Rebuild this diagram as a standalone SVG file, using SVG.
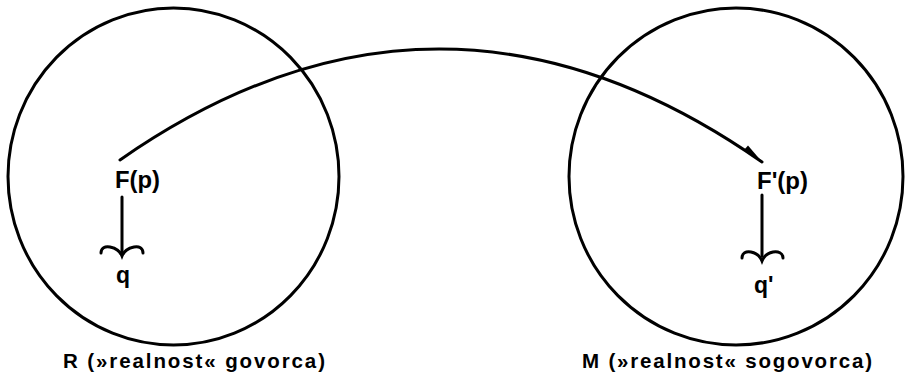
<svg xmlns="http://www.w3.org/2000/svg" width="905" height="382" viewBox="0 0 905 382">
  <style>
    .ring { fill: none; stroke: #000; stroke-width: 3; }
    .line { fill: none; stroke: #000; stroke-width: 3; stroke-linecap: round; }
    .lbl { font-family: "Liberation Sans", Arial, sans-serif; font-weight: bold; fill: #000; }
    .big { font-size: 23px; }
    .cap { font-size: 20.5px; }
  </style>
  <rect width="905" height="382" fill="#fff"/>
  <g id="realnost-govorca">
    <ellipse class="ring" cx="173.5" cy="176.5" rx="165.5" ry="168.5"/>
    <text class="lbl cap" x="63" y="368" textLength="262" lengthAdjust="spacing">R (»realnost«  govorca)</text>
  </g>
  <g id="realnost-sogovorca">
    <ellipse class="ring" cx="736" cy="176.5" rx="167" ry="168.5"/>
    <text class="lbl cap" x="582" y="368" textLength="290" lengthAdjust="spacing">M (»realnost«  sogovorca)</text>
  </g>
  <g id="Fp">
    <text class="lbl big" x="115" y="188" textLength="45" lengthAdjust="spacingAndGlyphs">F(p)</text>
  </g>
  <g id="q">
    <text class="lbl big" x="116" y="283">q</text>
  </g>
  <g id="Fpp">
    <text class="lbl big" x="757" y="189" textLength="51" lengthAdjust="spacingAndGlyphs">F'(p)</text>
  </g>
  <g id="qp">
    <text class="lbl big" x="754" y="293">q'</text>
  </g>
  <g id="connectors">
    <path class="line" d="M120,160 Q440,-63 762,162"/>
    <polygon points="763,163 744,150 748,145.5" fill="#000"/>
    <path class="line" d="M122,197 V252"/>
    <path class="line" d="M101,253 C101,248 105,246 110,247 C115,248 120,251 122,256 C124,251 129,248 134,247 C139,246 143,248 143,253"/>
    <path class="line" d="M762,195 V256"/>
    <path class="line" d="M742,258 C742,253 746,251 751,252 C756,253 760,256 762,261 C764,256 768,253 773,252 C778,251 783,253 783,258"/>
  </g>
</svg>
